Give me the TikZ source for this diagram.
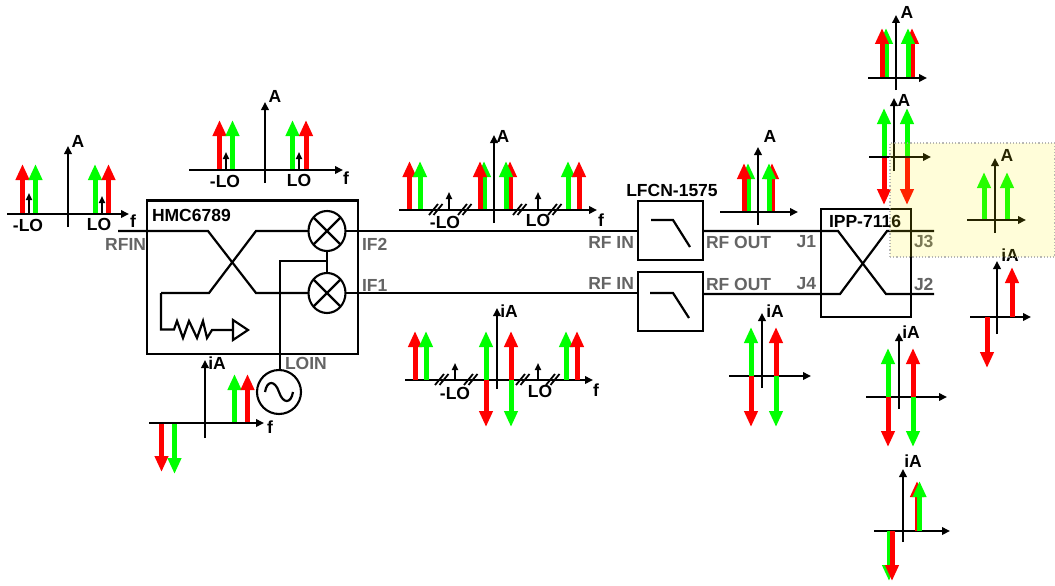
\documentclass[tikz,border=0pt]{standalone}
\usepackage{fontspec}
\setmainfont{Liberation Sans}
\usetikzlibrary{arrows.meta,shapes.geometric}
\definecolor{sigred}{RGB}{255,0,0}
\definecolor{siggreen}{RGB}{0,255,0}
\definecolor{labgray}{RGB}{100,100,100}
\tikzset{
  wire/.style={line width=2.2pt,line join=miter},
  blk/.style={draw,line width=2.3pt,inner sep=0pt,outer sep=0pt},
  mixer/.style={draw,ellipse,line width=2.1pt,minimum width=37pt,minimum height=40pt,inner sep=0pt,outer sep=0pt},
  axis/.style={line width=1.9pt,-{Triangle[width=7.5pt,length=8pt]}},
  tone/.style={line width=1.7pt,-{Triangle[width=6pt,length=7pt]}},
  sig/.style={line width=5pt,-{Triangle[width=13pt,length=16pt]}},
  txt/.style={font=\fontsize{17.5}{20}\selectfont\bfseries,inner sep=0pt,outer sep=0pt},
  port/.style={txt,text=labgray},
  brkline/.style={line width=1.8pt}
}
\newcommand{\sgn}[4]{\draw[sig,#1] (#2,#3) -- (#2,#4);}
\newcommand{\axs}[6]{\draw[axis] (#1,#3) -- (#2,#3); \draw[axis] (#4,#6) -- (#4,#5);}
\newcommand{\brk}[2]{\draw[brkline] (#1-7,#2+5) -- (#1+2,#2-6); \draw[brkline] (#1-2.5,#2+5) -- (#1+6.5,#2-6);}
\begin{document}
\begin{tikzpicture}[x=1pt,y=-1pt]
\useasboundingbox (0,0) rectangle (1055,586);
% ---- spectrum RFIN
\sgn{sigred}{22.5}{214}{164}\sgn{siggreen}{35.5}{214}{164}\sgn{siggreen}{95}{214}{164}\sgn{sigred}{108.5}{214}{164}
\draw[tone] (29,214) -- (29,193); \draw[tone] (102,214) -- (102,196);
\axs{7}{129}{214}{68}{146}{227}
\node[txt] (a1) at (78,141) {A}; \node[txt] (f1t) at (133,221) {f};
\node[txt] (lo1a) at (28,225) {-LO}; \node[txt] (lo1b) at (99,224) {LO};
% ---- spectrum above the mixer
\sgn{sigred}{219.5}{170}{120}\sgn{siggreen}{232.5}{170}{120}\sgn{siggreen}{292.5}{170}{120}\sgn{sigred}{306}{170}{120}
\draw[tone] (226,170) -- (226,152); \draw[tone] (299,170) -- (299,152);
\axs{189}{343}{170}{265}{102}{183}
\node[txt] (a2) at (275,96) {A}; \node[txt] (f2t) at (346,178) {f};
\node[txt] (lo2a) at (225,181) {-LO}; \node[txt] (lo2b) at (299,180) {LO};
% ---- mixer block
\node[blk,minimum width=211pt,minimum height=153.5pt] (hmc) at (252.5,277.25) {};
\node[txt,anchor=west] (hmct) at (152,215) {HMC6789};
\node[mixer] (mx1) at (327,231) {};
\node[mixer] (mx2) at (327,293) {};
\draw[wire] (mx1.45) -- (mx1.225) (mx1.135) -- (mx1.315);
\draw[wire] (mx2.45) -- (mx2.225) (mx2.135) -- (mx2.315);
\node[draw,circle,line width=2.1pt,minimum size=44pt,inner sep=0pt,outer sep=0pt] (osc) at (279,392) {};
\draw[wire] (265,392) .. controls (267,380) and (275,380) .. (279,392) .. controls (283,404) and (291,404) .. (293,392);
\coordinate (rfin) at (118,231);
\coordinate (xa) at (208,231); \coordinate (xb) at (256,293);
\coordinate (xc) at (209,293); \coordinate (xd) at (256,231);
\coordinate (term) at (161,293); \coordinate (tbot) at (161,329.5);
\draw[wire] (rfin) -- (xa) -- (xb) -- (mx2.west);
\draw[wire] (term) -- (xc) -- (xd) -- (mx1.west);
\draw[wire] (term) -- (tbot) -- (174,329.5) -- (177,321) -- (183,338) -- (189,321) -- (197,338) -- (203,321) -- (207,338) -- (212,330) -- (233,330);
\draw[wire] (233,320) -- (233,340) -- (248,330) -- cycle;
\draw[wire] (mx1.south) -- (mx2.north);
\coordinate (lotap) at (327,261); \coordinate (locorner) at (280,261);
\draw[wire] (lotap) -- (locorner) -- (locorner |- osc.north);
\node[port,anchor=east] (rfint) at (146,244) {RFIN};
\node[port,anchor=west] (if2t) at (362,244) {IF2};
\node[port,anchor=west] (if1t) at (362,285) {IF1};
\node[port,anchor=west] (loint) at (285,363) {LOIN};
% ---- spectrum below the mixer
\sgn{siggreen}{234.5}{423}{374}\sgn{sigred}{247.5}{423}{374}
\sgn{sigred}{161.5}{423}{472}\sgn{siggreen}{174.5}{423}{474}
\axs{149}{264}{423}{205}{360}{438}
\node[txt] (a3) at (217,363) {iA}; \node[txt] (f3t) at (270,427) {f};
% ---- filters
\node[blk,minimum width=65pt,minimum height=59pt] (lp1) at (670.5,230.5) {};
\node[blk,minimum width=65pt,minimum height=59pt] (lp2) at (670.5,301.5) {};
\draw[wire] (651,220) -- (673,220) -- (690,247);
\draw[wire] (650,293) -- (673,293) -- (689,318);
\node[txt] (lp1t) at (672,190) {LFCN-1575};
\node[port,anchor=east] (rfi1) at (634,242) {RF IN};
\node[port,anchor=east] (rfi2) at (634,283) {RF IN};
\node[port,anchor=west] (rfo1) at (706,242) {RF OUT};
\node[port,anchor=west] (rfo2) at (706,284) {RF OUT};
\draw[wire] (mx1.east) -- (lp1.west |- mx1.east);
\draw[wire] (mx2.east) -- (lp2.west |- mx2.east);
% ---- hybrid
\node[blk,minimum width=90pt,minimum height=108pt] (ipp) at (866,263) {};
\node[txt] (ippt) at (865,221) {IPP-7116};
\coordinate (ia) at (838,231); \coordinate (ib) at (886,294); \coordinate (ic) at (840,294); \coordinate (id) at (887,231);
\coordinate (j3) at (934,231); \coordinate (j2) at (934,294);
\draw[wire] (lp1.east |- ia) -- (ia) -- (ib) -- (j2);
\draw[wire] (lp2.east |- ic) -- (ic) -- (id) -- (j3);
\node[port,anchor=east] (j1t) at (816,242) {J1};
\node[port,anchor=east] (j4t) at (816,284) {J4};
\node[port,anchor=west] (j3t) at (914,241) {J3};
\node[port,anchor=west] (j2t) at (914,284) {J2};
% ---- spectrum above IF2
\sgn{sigred}{409.5}{210}{161}\sgn{siggreen}{420}{210}{161}
\sgn{siggreen}{484}{210}{161}\sgn{sigred}{480}{210}{161}
\sgn{sigred}{510}{210}{161}\sgn{siggreen}{506}{210}{161}
\sgn{siggreen}{568}{210}{161}\sgn{sigred}{579}{210}{161}
\draw[tone] (449,210) -- (449,192); \draw[tone] (538,210) -- (538,192);
\axs{399}{597}{210}{494}{135}{223}
\brk{436}{210}\brk{465}{210}\brk{520}{210}\brk{555}{210}
\node[txt] (a4) at (503,136) {A}; \node[txt] (f4t) at (601,220) {f};
\node[txt] (lo4a) at (445,222) {-LO}; \node[txt] (lo4b) at (538,220) {LO};
% ---- spectrum below IF1
\axs{405}{593}{380}{497}{308}{389}
\sgn{sigred}{415}{380}{331}\sgn{siggreen}{426}{380}{331}
\sgn{siggreen}{486}{380}{331}\sgn{sigred}{486}{380}{427}
\sgn{sigred}{511}{380}{331}\sgn{siggreen}{511}{380}{427}
\sgn{siggreen}{566}{380}{331}\sgn{sigred}{577}{380}{331}
\draw[tone] (455,380) -- (455,363); \draw[tone] (538,380) -- (538,363);
\brk{442}{380}\brk{471}{380}\brk{523}{380}\brk{553}{380}
\node[txt] (a5) at (509,311) {iA}; \node[txt] (f5t) at (596,390) {f};
\node[txt] (lo5a) at (455,393) {-LO}; \node[txt] (lo5b) at (540,391) {LO};
% ---- RF OUT upper
\sgn{siggreen}{748}{212}{163}\sgn{sigred}{744}{212}{163}
\sgn{sigred}{772}{212}{163}\sgn{siggreen}{769}{212}{163}
\axs{720}{798}{212}{758}{147}{225}
\node[txt] (a6) at (770,136) {A};
% ---- RF OUT lower
\axs{729}{811}{376}{762}{313}{388}
\sgn{siggreen}{751}{376}{327}\sgn{sigred}{751}{376}{427}
\sgn{sigred}{776}{376}{327}\sgn{siggreen}{776}{376}{427}
\node[txt] (a11) at (775,311) {iA};
% ---- top right
\sgn{siggreen}{886}{78}{28}\sgn{sigred}{882}{78}{28}
\sgn{sigred}{912}{78}{28}\sgn{siggreen}{908}{78}{28}
\axs{868}{927}{78}{896}{15}{90}
\node[txt] (a7) at (907,12) {A};
% ---- second right
\sgn{siggreen}{884}{157}{108}\sgn{sigred}{884}{157}{205}
\sgn{siggreen}{907}{157}{108}\sgn{sigred}{907}{157}{205}
\axs{869}{931}{157}{894}{98}{171}
\node[txt] (a8) at (904,100) {A};
% ---- J3 output
\sgn{siggreen}{984}{220}{172}\sgn{siggreen}{1007}{220}{172}
\axs{967}{1026}{220}{995}{158}{233}
\node[txt] (a9) at (1007,155) {A};
% ---- J2 output
\axs{970}{1031}{317}{997}{261}{334}
\sgn{sigred}{1012}{317}{267}\sgn{sigred}{987}{317}{368}
\node[txt] (a10) at (1010,255) {iA};
% ---- below hybrid
\axs{866}{947}{397}{899}{333}{409}
\sgn{siggreen}{888}{397}{348}\sgn{sigred}{888}{397}{447}
\sgn{sigred}{913}{397}{348}\sgn{siggreen}{913}{397}{447}
\node[txt] (a12) at (911,332) {iA};
% ---- bottom
\axs{874}{950}{531}{903}{469}{542}
\sgn{sigred}{917}{531}{481}\sgn{siggreen}{919.5}{531}{481}
\sgn{siggreen}{889}{531}{581}\sgn{sigred}{892}{531}{581}
\node[txt] (a13) at (913,461) {iA};
% ---- highlight overlay
\node[draw=black!35,dotted,line width=1.2pt,fill=yellow,fill opacity=.15,draw opacity=.8,minimum width=165pt,minimum height=114pt,inner sep=0pt,outer sep=0pt] (hl) at (972.5,200) {};
\end{tikzpicture}
\end{document}
